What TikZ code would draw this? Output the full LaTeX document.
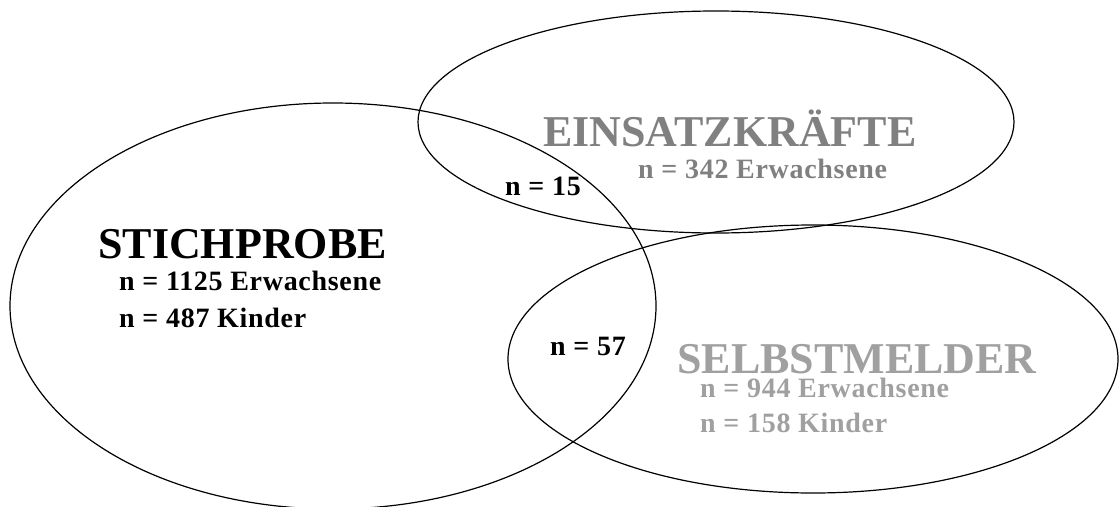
\documentclass[tikz,border=0pt]{standalone}
\usepackage{fontspec}
\setmainfont{Liberation Serif}
\newfontfamily\tightfont{Liberation Serif}[LetterSpace=2.5]
\usetikzlibrary{shapes.geometric}
\definecolor{einsgray}{RGB}{128,128,128}
\definecolor{selbgray}{RGB}{160,160,160}
\tikzset{
  venn/.style={ellipse, draw=black, line width=1.2pt, inner sep=0pt},
  title/.style={anchor=base west, inner sep=0pt, font=\fontsize{44}{48}\selectfont\bfseries},
  count/.style={anchor=base west, inner sep=0pt, font=\tightfont\fontsize{28}{32}\selectfont\bfseries},
}
\begin{document}
\begin{tikzpicture}[x=1pt,y=-1pt]
\useasboundingbox (0,0) rectangle (1119,506);
\clip (0,0) rectangle (1119,506);
\fill[white] (0,0) rectangle (1119,506);
\node[venn, minimum width=646, minimum height=406] (stich) at (333,306) {};
\node[venn, minimum width=596, minimum height=222] (eins) at (716,122) {};
\node[venn, minimum width=610, minimum height=268] (selb) at (813,359) {};

\node[title] (stichT) at (98,258) {STICHPROBE};
\node[count] (stichE) at (119,290) {n = 1125 Erwachsene};
\node[count] (stichK) at (119,327) {n = 487 Kinder};

\node[title, text=einsgray] (einsT) at (543,146) {EINSATZKRÄFTE};
\node[count, text=einsgray] (einsE) at (638,178) {n = 342 Erwachsene};

\node[title, text=selbgray] (selbT) at (677,373) {SELBSTMELDER};
\node[count, text=selbgray] (selbE) at (700,397) {n = 944 Erwachsene};
\node[count, text=selbgray] (selbK) at (700,432) {n = 158 Kinder};

\node[count] (ov15) at (505,195) {n = 15};
\node[count] (ov57) at (550,355) {n = 57};
\end{tikzpicture}
\end{document}
